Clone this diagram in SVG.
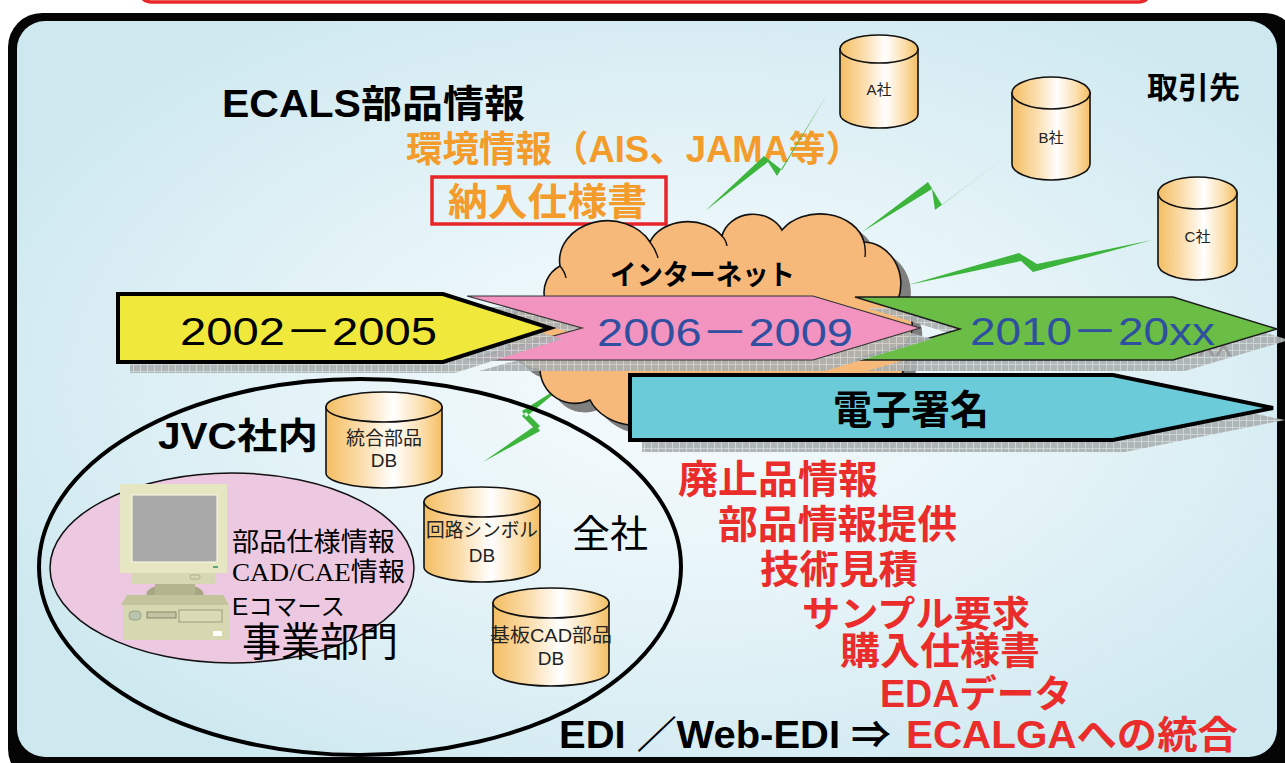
<svg xmlns="http://www.w3.org/2000/svg" width="1285" height="763" viewBox="0 0 1285 763">
  <defs>
    <radialGradient id="bg" cx="0.53" cy="0.5" r="0.62">
      <stop offset="0" stop-color="#f6fbfd"/>
      <stop offset="0.45" stop-color="#e6f4f8"/>
      <stop offset="1" stop-color="#cde8ef"/>
    </radialGradient>
    <linearGradient id="cyl" x1="0" x2="1" y1="0" y2="0">
      <stop offset="0" stop-color="#f4be63"/>
      <stop offset="0.3" stop-color="#fbdcaa"/>
      <stop offset="0.58" stop-color="#ffffff"/>
      <stop offset="0.82" stop-color="#fbdfae"/>
      <stop offset="1" stop-color="#f4be63"/>
    </linearGradient>
    <pattern id="grid" width="7" height="7" patternUnits="userSpaceOnUse">
      <rect width="7" height="7" fill="#a9afaf"/>
      <path d="M0 0.5H7M0.5 0V7" stroke="#d4d9d9" stroke-width="0.8"/>
    </pattern>
    <style>
      .sans { font-family: "Liberation Sans", "Noto Sans CJK JP", sans-serif; }
      .serif { font-family: "Liberation Serif", "Noto Sans CJK JP", serif; }
      .b { font-weight: 700; }
      .orange { fill: #f39c2b; }
      .red { fill: #ea2d2b; }
      .blue { fill: #2f4fa0; }
      .cylbody { fill: url(#cyl); stroke: #111; stroke-width: 1.6; }
      .cyllabel { font-family: "Liberation Sans", "Noto Sans CJK JP", sans-serif; fill: #222; text-anchor: middle; }
      .bolt { fill: #3db53d; }
      .shadow { fill: url(#grid); opacity: 0.9; }
    </style>
  </defs>

  <!-- red rule above the panel -->
  <path d="M140 -12 Q140 2 152 2 L1138 2 Q1150 2 1150 -12" fill="none" stroke="#e8282a" stroke-width="3.5"/>

  <!-- panel frame -->
  <rect x="8" y="13" width="1290" height="770" rx="34" fill="#050505"/>
  <rect x="17" y="21" width="1260" height="736" rx="28" fill="url(#bg)"/>

  <!-- headings -->
  <text class="sans b" x="222" y="117" font-size="38" textLength="303" lengthAdjust="spacingAndGlyphs">ECALS部品情報</text>
  <text class="sans b orange" x="406" y="162" font-size="36" textLength="456" lengthAdjust="spacingAndGlyphs">環境情報（AIS、JAMA等）</text>
  <rect x="432" y="177" width="234" height="47" fill="none" stroke="#e8262a" stroke-width="3.5"/>
  <text class="sans b orange" x="448" y="215" font-size="38" textLength="199" lengthAdjust="spacingAndGlyphs">納入仕様書</text>
  <text class="sans b" x="1147" y="98" font-size="30" textLength="93" lengthAdjust="spacingAndGlyphs">取引先</text>

  <!-- wireless links -->
  <g id="connectors">
    <path class="bolt" d="M705 211L768 162L764 156Z M768 162L764 156L782 170L777 176Z M777 176L782 170L828 93Z"/>
    <path class="bolt" d="M862 232L932 189L928 182Z M932 189L928 182L942 205L935 210Z M935 210L942 205L1005 157Z"/>
    <path class="bolt" d="M908 285L1021 261L1019 253Z M1021 261L1019 253L1037 264L1033 272Z M1033 272L1037 264L1152 240Z"/>
    <path class="bolt" d="M483 462L540 431L536 425Z M540 426L526 412L522 416L536 430Z M526 417L522 411L568 382Z"/>
  </g>

  <!-- partner databases -->
  <g id="db-a">
    <path class="cylbody" d="M840 49V114A39 14 0 0 0 918 114V49Z"/>
    <ellipse class="cylbody" cx="879" cy="49" rx="39" ry="14"/>
    <text class="cyllabel" x="879" y="95" font-size="15">A社</text>
  </g>
  <g id="db-b">
    <path class="cylbody" d="M1012 93V164A39 16 0 0 0 1090 164V93Z"/>
    <ellipse class="cylbody" cx="1051" cy="93" rx="39" ry="16"/>
    <text class="cyllabel" x="1051" y="143" font-size="15">B社</text>
  </g>
  <g id="db-c">
    <path class="cylbody" d="M1158 193V264A39.5 16 0 0 0 1237 264V193Z"/>
    <ellipse class="cylbody" cx="1197.5" cy="193" rx="39.5" ry="16"/>
    <text class="cyllabel" x="1197.5" y="242" font-size="15">C社</text>
  </g>

  <!-- internet cloud -->
  <g id="cloud">
    <path transform="translate(10 9)" fill="#7f7f7f" d="M545 300A30 30 0 0 1 560 266A48 40 0 0 1 650 242A40 30 0 0 1 722 236A32 28 0 0 1 782 230A45 35 0 0 1 864 242A38 42 0 0 1 898 300A30 30 0 0 1 905 345A40 40 0 0 1 860 395A50 40 0 0 1 770 410A50 35 0 0 1 680 405A50 40 0 0 1 590 400A35 35 0 0 1 540 370A30 30 0 0 1 545 300Z"/>
    <path fill="#f7b97a" stroke="#111" stroke-width="1.6" d="M545 300A30 30 0 0 1 560 266A48 40 0 0 1 650 242A40 30 0 0 1 722 236A32 28 0 0 1 782 230A45 35 0 0 1 864 242A38 42 0 0 1 898 300A30 30 0 0 1 905 345A40 40 0 0 1 860 395A50 40 0 0 1 770 410A50 35 0 0 1 680 405A50 40 0 0 1 590 400A35 35 0 0 1 540 370A30 30 0 0 1 545 300Z"/>
    <path d="M650 242Q656 250 658 258M722 236Q726 240 727 246M864 242Q866 250 865 257M560 266Q565 272 566 278" fill="none" stroke="#111" stroke-width="1.4"/>
    <text class="sans b" x="610" y="285" font-size="28" textLength="185" lengthAdjust="spacingAndGlyphs">インターネット</text>
  </g>

  <!-- in-house scope -->
  <ellipse id="jvc-scope" cx="360" cy="567" rx="321" ry="188" fill="none" stroke="#000" stroke-width="4"/>
  <text class="sans b" x="158" y="449" font-size="36" textLength="160" lengthAdjust="spacingAndGlyphs">JVC社内</text>
  <text class="sans" x="572" y="547" font-size="38" textLength="76" lengthAdjust="spacingAndGlyphs">全社</text>

  <!-- timeline arrows -->
  <g id="arrow-2010">
    <polygon class="shadow" points="867,308 1185,308 1289,340 1185,371 867,371 972,340"/>
    <text class="sans" x="1198" y="356" font-size="39" fill="#9a9a9a" textLength="34" lengthAdjust="spacingAndGlyphs">xx</text>
    <polygon points="855,297 1173,297 1277,329 1173,360 855,360 960,329" fill="#6abd45" stroke="#1d1d1d" stroke-width="1.5"/>
    <text class="sans blue" x="970" y="345" font-size="39" textLength="245" lengthAdjust="spacingAndGlyphs">2010－20xx</text>
  </g>
  <g id="arrow-2006">
    <polygon class="shadow" points="479,307 825,307 932,339 825,371 479,371 594,339"/>
    <polygon points="467,296 813,296 920,328 813,360 467,360 582,328" fill="#f294bf" stroke="#333" stroke-width="1.2"/>
    <text class="sans blue" x="597" y="346" font-size="39" textLength="256" lengthAdjust="spacingAndGlyphs">2006－2009</text>
  </g>
  <g id="arrow-2002">
    <polygon class="shadow" points="130,305 455,305 562,339 455,373 130,373"/>
    <polygon points="118,294 443,294 550,328 443,362 118,362" fill="#f0e93b" stroke="#000" stroke-width="4" stroke-linejoin="miter"/>
    <text class="sans" x="180" y="345" font-size="39" textLength="257" lengthAdjust="spacingAndGlyphs">2002－2005</text>
  </g>
  <g id="arrow-signature">
    <polygon class="shadow" points="642,387 1125,387 1285,420 1125,452 642,452"/>
    <polygon points="630,375 1113,375 1273,408 1113,440 630,440" fill="#6ccbd9" stroke="#000" stroke-width="4"/>
    <text class="sans b" x="833" y="424" font-size="40" textLength="156" lengthAdjust="spacingAndGlyphs">電子署名</text>
  </g>

  <!-- business division -->
  <g id="division">
    <ellipse cx="232" cy="568" rx="182" ry="95" fill="#ecc9e1" stroke="#111" stroke-width="1.5"/>
    <g id="pc">
      <rect x="120" y="484" width="107" height="89" fill="#e6e6c3"/>
      <rect x="132" y="495" width="85" height="67" fill="#a9a9a9" stroke="#f3f3e2" stroke-width="1.2"/>
      <rect x="213" y="566" width="5" height="2" fill="#5aa57a"/>
      <rect x="132" y="573" width="83" height="11" fill="#d7d7b3"/>
      <rect x="190" y="575" width="10" height="4" rx="2" fill="none" stroke="#a5a585" stroke-width="0.8"/>
      <path d="M146 596Q146 584 175 584Q204 584 204 596Z" fill="#a7a783"/>
      <rect x="155" y="584" width="40" height="12" fill="#b4b48f"/>
      <polygon points="127,595 223,595 229,605 121,605" fill="#c4c49c"/>
      <rect x="123" y="605" width="106" height="35" fill="#d7d7b1"/>
      <rect x="129" y="611" width="12" height="9" rx="4" fill="#b9c6ad" stroke="#8c9a80" stroke-width="0.8"/>
      <rect x="147" y="612" width="29" height="6" fill="#c3c3a2" stroke="#777760" stroke-width="0.8"/>
      <rect x="179" y="610" width="43" height="12" fill="#dadab6" stroke="#8e8e74" stroke-width="0.8"/>
      <rect x="213" y="631" width="9" height="5" fill="#ffffff"/>
    </g>
    <text class="sans" x="232" y="551" font-size="26" textLength="163" lengthAdjust="spacingAndGlyphs">部品仕様情報</text>
    <text class="serif" x="232" y="581" font-size="26" textLength="173" lengthAdjust="spacingAndGlyphs">CAD/CAE情報</text>
    <text class="sans" x="232" y="615" font-size="24" textLength="113" lengthAdjust="spacingAndGlyphs">Eコマース</text>
    <text class="sans" x="242" y="656" font-size="40" textLength="156" lengthAdjust="spacingAndGlyphs">事業部門</text>
  </g>

  <!-- in-house databases -->
  <g id="db-parts">
    <path class="cylbody" d="M326 407V473A58 15 0 0 0 442 473V407Z"/>
    <ellipse class="cylbody" cx="384" cy="407" rx="58" ry="15"/>
    <text class="cyllabel" x="384" y="445" font-size="19">統合部品</text>
    <text class="cyllabel" x="384" y="467" font-size="19">DB</text>
  </g>
  <g id="db-symbol">
    <path class="cylbody" d="M424 502V567A58 15 0 0 0 540 567V502Z"/>
    <ellipse class="cylbody" cx="482" cy="502" rx="58" ry="15"/>
    <text class="cyllabel" x="482" y="537" font-size="19" textLength="112" lengthAdjust="spacingAndGlyphs">回路シンボル</text>
    <text class="cyllabel" x="482" y="562" font-size="19">DB</text>
  </g>
  <g id="db-board">
    <path class="cylbody" d="M493 603V671A58 15 0 0 0 609 671V603Z"/>
    <ellipse class="cylbody" cx="551" cy="603" rx="58" ry="15"/>
    <text class="cyllabel" x="551" y="642" font-size="19" textLength="122" lengthAdjust="spacingAndGlyphs">基板CAD部品</text>
    <text class="cyllabel" x="551" y="665" font-size="19">DB</text>
  </g>

  <!-- services list -->
  <g id="services" class="sans b red">
    <text x="678" y="493" font-size="39" textLength="200" lengthAdjust="spacingAndGlyphs">廃止品情報</text>
    <text x="718" y="538" font-size="39" textLength="239" lengthAdjust="spacingAndGlyphs">部品情報提供</text>
    <text x="760" y="583" font-size="39" textLength="158" lengthAdjust="spacingAndGlyphs">技術見積</text>
    <text x="802" y="627" font-size="36" textLength="228" lengthAdjust="spacingAndGlyphs">サンプル要求</text>
    <text x="840" y="664" font-size="38" textLength="200" lengthAdjust="spacingAndGlyphs">購入仕様書</text>
    <text x="880" y="707" font-size="38" textLength="192" lengthAdjust="spacingAndGlyphs">EDAデータ</text>
  </g>
  <text class="sans b" x="559" y="748" font-size="38" textLength="332" lengthAdjust="spacingAndGlyphs">EDI ／Web-EDI ⇒</text>
  <text class="sans b red" x="906" y="748" font-size="38" textLength="332" lengthAdjust="spacingAndGlyphs">ECALGAへの統合</text>
</svg>
